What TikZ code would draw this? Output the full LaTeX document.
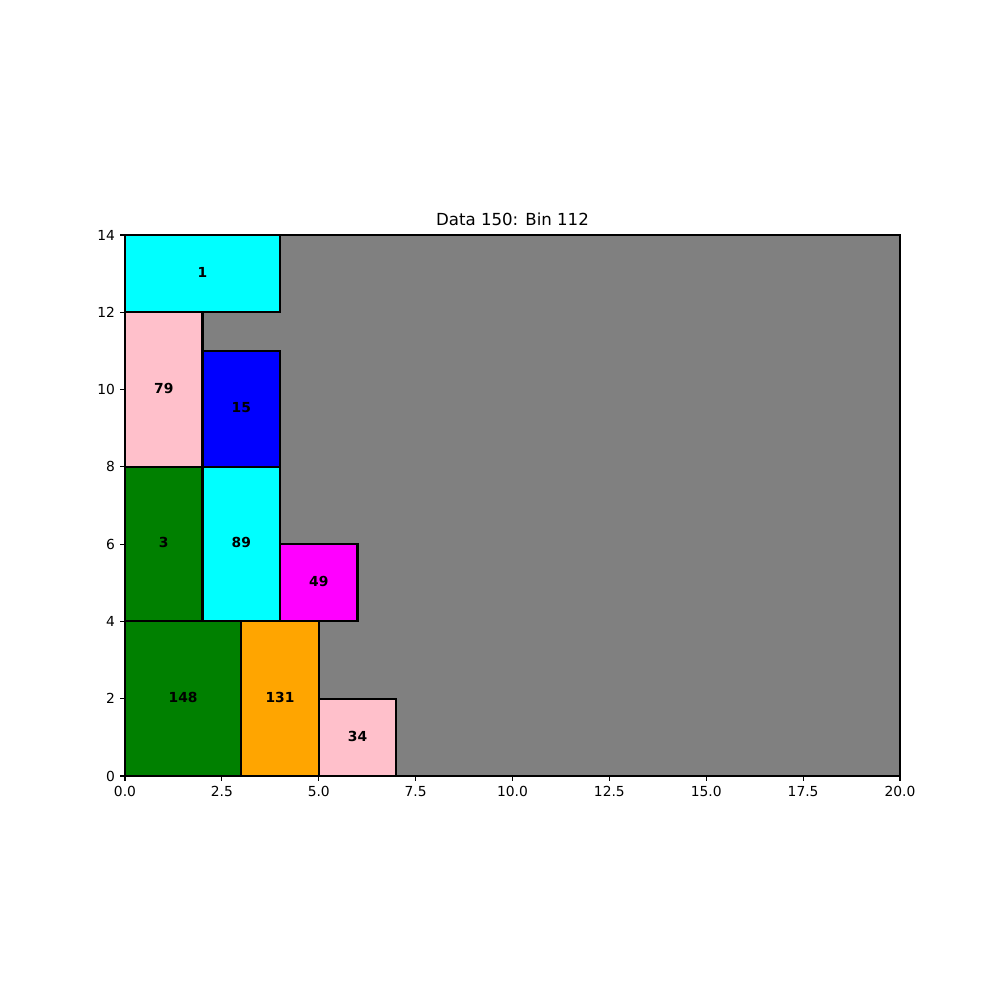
\documentclass[tikz,border=0pt]{standalone}
\usepackage{fontspec}
\setmainfont{DejaVu Sans}
\definecolor{mcyan}{RGB}{0,255,255}
\definecolor{mmagenta}{RGB}{255,0,255}
\definecolor{mblue}{RGB}{0,0,255}
\definecolor{mgreen}{RGB}{0,128,0}
\definecolor{mpink}{RGB}{255,192,203}
\definecolor{morange}{RGB}{255,165,0}
\definecolor{mgray}{RGB}{128,128,128}
\begin{document}
\begin{tikzpicture}
\useasboundingbox[fill=white] (0,0) rectangle (25.4cm,25.4cm);
\tikzset{
  item/.style={draw=black, line width=1.5pt},
  lbl/.style={font=\fontsize{10}{12}\selectfont\bfseries, inner sep=0pt, yshift=1pt},
  tick/.style={line width=0.8pt},
  ticklbl/.style={font=\fontsize{10}{12}\selectfont, inner sep=0pt}
}
\begin{scope}[xshift=3.175cm, yshift=5.6896cm, x=0.98425cm, y=0.98154cm]
  % bin
  \fill[mgray] (0,0) rectangle (20,14);
  % items
  \draw[item, fill=mcyan] (0,12) rectangle (4,14);
  \node[lbl] (l1) at (2,13) {1};
  \draw[item, fill=mpink] (0,8) rectangle (2,12);
  \node[lbl] (l79) at (1,10) {79};
  \draw[item, fill=mblue] (2,8) rectangle (4,11);
  \node[lbl] (l15) at (3,9.5) {15};
  \draw[item, fill=mgreen] (0,4) rectangle (2,8);
  \node[lbl] (l3) at (1,6) {3};
  \draw[item, fill=mcyan] (2,4) rectangle (4,8);
  \node[lbl] (l89) at (3,6) {89};
  \draw[item, fill=mmagenta] (4,4) rectangle (6,6);
  \node[lbl] (l49) at (5,5) {49};
  \draw[item, fill=mgreen] (0,0) rectangle (3,4);
  \node[lbl] (l148) at (1.5,2) {148};
  \draw[item, fill=morange] (3,0) rectangle (5,4);
  \node[lbl] (l131) at (4,2) {131};
  \draw[item, fill=mpink] (5,0) rectangle (7,2);
  \node[lbl] (l34) at (6,1) {34};
  % bin border
  \draw[line width=1.5pt] (0,0) rectangle (20,14);
  % x ticks
  \foreach \v/\t in {0/0.0,2.5/2.5,5/5.0,7.5/7.5,10/10.0,12.5/12.5,15/15.0,17.5/17.5,20/20.0}{
    \draw[tick] (\v,0) -- ++(0,-3.5pt);
    \node[ticklbl, anchor=north] (xt\v) at ([yshift=-7pt]\v,0) {\t};
  }
  % y ticks
  \foreach \v in {0,2,4,6,8,10,12,14}{
    \draw[tick] (0,\v) -- ++(-3.5pt,0);
    \node[ticklbl, anchor=east] (yt\v) at ([xshift=-7pt]0,\v) {\v};
  }
  \node[font=\fontsize{12}{14}\selectfont, anchor=base] (title) at ([yshift=7pt]10,14) {Data 150: Bin 112};
\end{scope}
\end{tikzpicture}
\end{document}
